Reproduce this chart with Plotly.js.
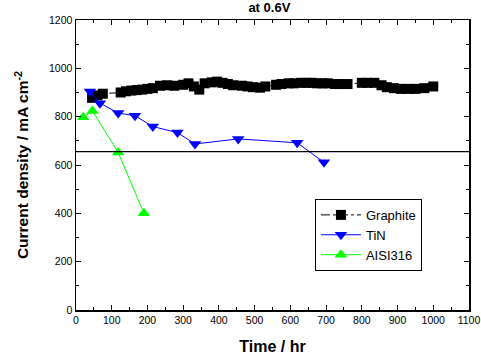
<!DOCTYPE html>
<html><head><meta charset="utf-8">
<script src="https://cdn.plot.ly/plotly-3.0.1.min.js"></script>
<style>html,body{margin:0;padding:0;background:#fff}#chart{width:481px;height:360px}</style>
</head><body><div id="chart"></div>
<script>
const graphiteTime = [45, 60, 75, 125, 140, 155, 170, 185, 200, 215, 235, 255, 275, 300, 315, 330, 345, 360, 380, 395, 410, 425, 440, 465, 480, 495, 515, 530, 560, 575, 595, 610, 630, 645, 660, 675, 690, 705, 725, 740, 760, 800, 815, 835, 855, 870, 890, 910, 930, 950, 975, 1000];
const graphiteValue = [878, 888, 895, 900, 905, 908, 910, 912, 915, 918, 928, 930, 928, 932, 938, 925, 912, 938, 942, 945, 940, 935, 930, 928, 925, 922, 920, 925, 932, 935, 938, 938, 940, 940, 940, 938, 938, 938, 935, 935, 935, 940, 940, 940, 930, 922, 918, 915, 915, 915, 918, 925];
const tinTime = [39, 67, 118, 165, 215, 284, 333, 454, 619, 694];
const tinValue = [904, 856, 815, 804, 759, 734, 687, 708, 692, 611];
const aisiTime = [20, 46, 118, 190];
const aisiValue = [798, 823, 652, 400];
const refLevel = 655;
const xTicks = [0,100,200,300,400,500,600,700,800,900,1000,1100];
const yTicks = [0,200,400,600,800,1000,1200];

const FONT = 'Liberation Sans, Arial, sans-serif';

const traces = [
  {x: graphiteTime, y: graphiteValue, name: 'Graphite', mode: 'lines+markers',
   line: {color: '#000', width: 1, dash: 'dashdot'},
   marker: {symbol: 'square', size: 10, color: '#000'}},
  {x: tinTime, y: tinValue, name: 'TiN', mode: 'lines+markers',
   line: {color: '#0000ff', width: 1},
   marker: {symbol: 'triangle-down', size: 11, color: '#0000ff'}},
  {x: aisiTime, y: aisiValue, name: 'AISI316', mode: 'lines+markers',
   line: {color: '#00ff00', width: 1},
   marker: {symbol: 'triangle-up', size: 11, color: '#00ff00'}}
];

const axisCommon = {
  showline: true, linecolor: '#000', linewidth: 1.5, mirror: 'ticks',
  ticks: 'inside', ticklen: 5, tickcolor: '#000', tickwidth: 1,
  showgrid: false, zeroline: false,
  tickfont: {family: FONT, size: 10.5, color: '#000'}
};

const layout = {
  width: 481, height: 360,
  margin: {l: 76, r: 12, t: 20, b: 50},
  paper_bgcolor: '#fff', plot_bgcolor: '#fff',
  showlegend: true,
  title: {text: '<b>at 0.6V</b>', x: 0.56, xanchor: 'center', yref: 'container', y: 0.978, yanchor: 'middle',
          font: {family: FONT, size: 13, color: '#000'}},
  xaxis: Object.assign({}, axisCommon, {range: [0, 1100], tickvals: xTicks,
    minor: {ticks: 'inside', ticklen: 3, tickcolor: '#000', dtick: 50, tick0: 0},
    title: {text: '<b>Time / hr</b>', standoff: 15, font: {family: FONT, size: 16, color: '#000'}}}),
  yaxis: Object.assign({}, axisCommon, {range: [0, 1200], tickvals: yTicks,
    minor: {ticks: 'inside', ticklen: 3, tickcolor: '#000', dtick: 100, tick0: 0},
    title: {text: '<b>Current density / mA cm<sup>-2</sup></b>', standoff: 16, font: {family: FONT, size: 15.5, color: '#000'}}}),
  legend: {x: 0.608, y: 0.383, xanchor: 'left', yanchor: 'top', bgcolor: '#fff',
    bordercolor: '#000', borderwidth: 1, tracegroupgap: 0, itemwidth: 40,
    font: {family: FONT, size: 13, color: '#000'}},
  shapes: [{type: 'line', xref: 'paper', x0: 0, x1: 1, yref: 'y', y0: refLevel, y1: refLevel,
    line: {color: '#000', width: 1.2}}]
};

Plotly.newPlot('chart', traces, layout, {displayModeBar: false, staticPlot: true});
</script></body></html>
